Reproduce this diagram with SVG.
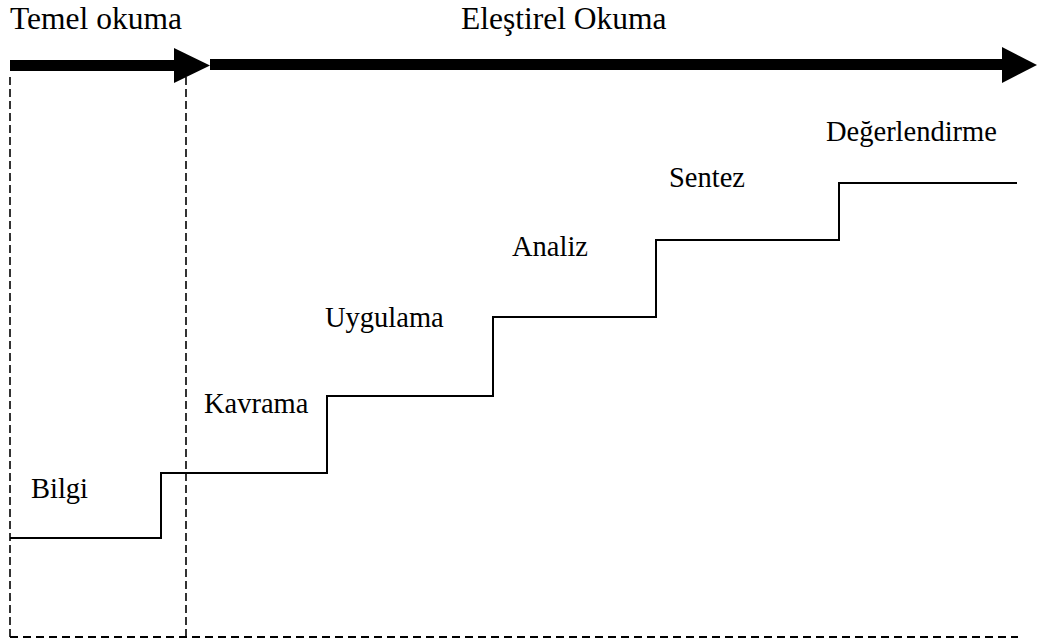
<svg xmlns="http://www.w3.org/2000/svg" width="1038" height="644" viewBox="0 0 1038 644">
<style>
.t{font-size:28.5px;fill:#000}
.h{font-size:31.5px;fill:#000}
.dash{stroke:#000;stroke-width:1.6;stroke-dasharray:8 4;fill:none}
.step{stroke:#000;stroke-width:2;fill:none}
</style>
<rect width="1038" height="644" fill="#fff"/>
<g id="guides">
<line class="dash" x1="10" y1="77" x2="10" y2="637"/>
<line class="dash" x1="186" y1="77" x2="186" y2="637"/>
<line class="dash" x1="10" y1="637" x2="1018" y2="637" style="stroke-width:2;stroke-dasharray:8 5"/>
</g>
<g id="arrow-temel">
<rect x="10" y="60" width="166" height="11" fill="#000"/>
<polygon points="174,48 210,65.5 174,83" fill="#000"/>
</g>
<g id="arrow-elestirel">
<rect x="210" y="59" width="794" height="11" fill="#000"/>
<polygon points="1002,47 1037,65 1002,83" fill="#000"/>
</g>
<g id="connectors">
<polyline class="step" points="10,538 161,538 161,473 327,473 327,396 493,396 493,317 656,317 656,240 839,240 839,183 1017,183"/>
</g>
<g font-family="'Liberation Serif', 'Times New Roman', 'DejaVu Serif', serif">
<g id="label-temel"><text class="h" x="10" y="28.5">Temel okuma</text></g>
<g id="label-elestirel"><text class="h" x="461" y="28.5">Eleştirel Okuma</text></g>
<g id="node-bilgi"><text class="t" x="31" y="498">Bilgi</text></g>
<g id="node-kavrama"><text class="t" x="204" y="413">Kavrama</text></g>
<g id="node-uygulama"><text class="t" x="325" y="327">Uygulama</text></g>
<g id="node-analiz"><text class="t" x="512" y="256">Analiz</text></g>
<g id="node-sentez"><text class="t" x="669" y="187">Sentez</text></g>
<g id="node-degerlendirme"><text class="t" x="826" y="141">Değerlendirme</text></g>
</g>
</svg>
